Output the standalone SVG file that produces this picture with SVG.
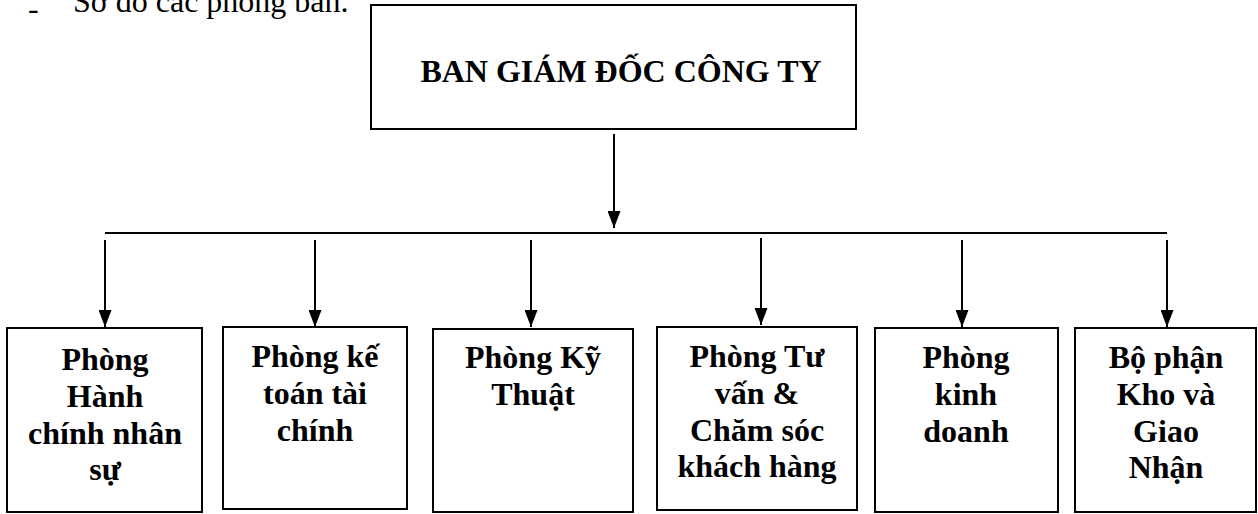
<svg xmlns="http://www.w3.org/2000/svg" width="1258" height="514" viewBox="0 0 1258 514">
<style>
.box{fill:#fff;stroke:#000;stroke-width:2}
.t{font-family:"Liberation Serif","Times New Roman",serif;font-size:32px;font-weight:bold;fill:#000;text-anchor:middle}
.h{font-family:"Liberation Serif","Times New Roman",serif;font-size:32px;fill:#000}
.c{stroke:#000;stroke-width:2;fill:none}
</style>
<defs>
<marker id="ah" markerUnits="userSpaceOnUse" markerWidth="17" markerHeight="13" refX="17" refY="6.5" orient="auto">
<path d="M0,0 L17,6.5 L0,13 z" fill="#000"/>
</marker>
</defs>
<rect width="1258" height="514" fill="#fff"/>
<text class="h" x="28" y="19">-</text>
<text class="h" x="73" y="12">Sơ đồ các phòng ban.</text>
<g id="connectors">
<line class="c" x1="614" y1="134" x2="614" y2="228" marker-end="url(#ah)"/>
<line class="c" x1="105" y1="233" x2="1167" y2="233"/>
<line class="c" x1="105" y1="240" x2="105" y2="327" marker-end="url(#ah)"/>
<line class="c" x1="315" y1="240" x2="315" y2="327" marker-end="url(#ah)"/>
<line class="c" x1="531" y1="240" x2="531" y2="327" marker-end="url(#ah)"/>
<line class="c" x1="761" y1="238" x2="761" y2="325" marker-end="url(#ah)"/>
<line class="c" x1="962" y1="240" x2="962" y2="327" marker-end="url(#ah)"/>
<line class="c" x1="1167" y1="240" x2="1167" y2="327" marker-end="url(#ah)"/>
</g>
<g id="ban-giam-doc">
<rect class="box" x="371" y="5" width="485" height="124"/>
<text class="t" x="621" y="82">BAN GIÁM ĐỐC CÔNG TY</text>
</g>
<g id="phong-hcns">
<rect class="box" x="7" y="328" width="195" height="184"/>
<text class="t" x="105" y="370">Phòng</text>
<text class="t" x="105" y="406.8">Hành</text>
<text class="t" x="105" y="443.6">chính nhân</text>
<text class="t" x="105" y="480.4">sự</text>
</g>
<g id="phong-ke-toan">
<rect class="box" x="223" y="327" width="184" height="182"/>
<text class="t" x="315" y="367">Phòng kế</text>
<text class="t" x="315" y="403.8">toán tài</text>
<text class="t" x="315" y="440.6">chính</text>
</g>
<g id="phong-ky-thuat">
<rect class="box" x="433" y="329" width="200" height="183"/>
<text class="t" x="533" y="368">Phòng Kỹ</text>
<text class="t" x="533" y="404.8">Thuật</text>
</g>
<g id="phong-tu-van">
<rect class="box" x="657" y="327" width="200" height="183"/>
<text class="t" x="757" y="367">Phòng Tư</text>
<text class="t" x="757" y="403.8">vấn &amp;</text>
<text class="t" x="757" y="440.6">Chăm sóc</text>
<text class="t" x="757" y="477.4">khách hàng</text>
</g>
<g id="phong-kinh-doanh">
<rect class="box" x="875" y="328" width="183" height="184"/>
<text class="t" x="966" y="368">Phòng</text>
<text class="t" x="966" y="404.8">kinh</text>
<text class="t" x="966" y="441.6">doanh</text>
</g>
<g id="bo-phan-kho">
<rect class="box" x="1075" y="328" width="181" height="184"/>
<text class="t" x="1166" y="368">Bộ phận</text>
<text class="t" x="1166" y="404.8">Kho và</text>
<text class="t" x="1166" y="441.6">Giao</text>
<text class="t" x="1166" y="478.4">Nhận</text>
</g>
</svg>
